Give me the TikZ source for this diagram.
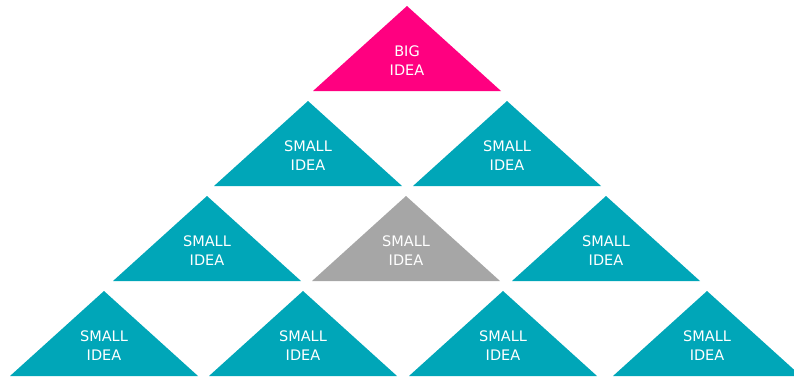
\documentclass[tikz,border=0pt]{standalone}
\usepackage{fontspec}
\setmainfont{DejaVu Sans}
\usepackage{tikz}

\definecolor{bigpink}{RGB}{255,0,128}
\definecolor{ideateal}{RGB}{0,166,184}
\definecolor{ideagray}{RGB}{166,166,166}

\begin{document}
\begin{tikzpicture}[x=1pt,y=-1pt,
  idea text/.style={text=white,align=center,font=\fontsize{14.5}{19}\selectfont}]
  \useasboundingbox (0,0) rectangle (794,376);

  % top of the pyramid
  \fill[bigpink] (407,6) -- ++(-94,85) -- ++(188,0) -- cycle;
  \node[idea text] (big) at (407,61) {BIG\\IDEA};

  % the small ideas, row by row
  \foreach \name/\ax/\ay/\col in {s21/308/101/ideateal, s22/507/101/ideateal,
      s31/207/196/ideateal, s32/406/196/ideagray, s33/606/196/ideateal,
      s41/104/291/ideateal, s42/303/291/ideateal, s43/503/291/ideateal, s44/707/291/ideateal}{
    \fill[\col] (\ax,\ay) -- ++(-94,85) -- ++(188,0) -- cycle;
    \node[idea text] (\name) at (\ax,\ay+55) {SMALL\\IDEA};
  }
\end{tikzpicture}
\end{document}
